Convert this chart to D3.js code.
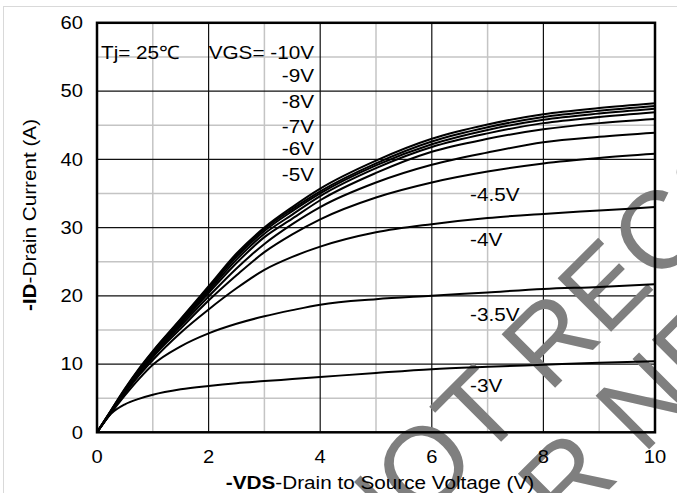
<!DOCTYPE html>
<html>
<head>
<meta charset="utf-8">
<script src="https://cdn.jsdelivr.net/npm/d3@7"></script>
<style>
  body { margin: 0; background: #fff; }
  svg { display: block; }
  text { font-family: "Liberation Sans", Arial, sans-serif; fill: #000; }
</style>
</head>
<body>
<svg id="chart" width="677" height="493"></svg>
<script>
// -VDS sample points (V)
const vds = [0, 0.25, 0.5, 0.75, 1, 1.5, 2, 2.5, 3, 3.5, 4, 5, 6, 7, 8, 9, 10];

// -ID (A) for each gate voltage
const idVgs10  = [0, 3.2, 6.4, 9.3, 11.9, 16.6, 21.4, 26.2, 30.0, 33.0, 35.7, 39.8, 43.0, 45.1, 46.6, 47.5, 48.2];
const idVgs9   = [0, 3.2, 6.3, 9.2, 11.8, 16.5, 21.2, 26.0, 29.8, 32.7, 35.3, 39.4, 42.6, 44.7, 46.2, 47.1, 47.8];
const idVgs8   = [0, 3.1, 6.2, 9.1, 11.7, 16.3, 21.0, 25.7, 29.5, 32.4, 35.0, 39.1, 42.2, 44.3, 45.8, 46.7, 47.4];
const idVgs7   = [0, 3.1, 6.1, 9.0, 11.6, 16.1, 20.7, 25.3, 29.1, 31.9, 34.6, 38.7, 41.8, 43.8, 45.3, 46.2, 46.9];
const idVgs6   = [0, 3.0, 6.0, 8.9, 11.4, 15.9, 20.4, 24.8, 28.6, 31.3, 34.0, 38.0, 41.1, 43.0, 44.4, 45.3, 45.9];
const idVgs5   = [0, 3.0, 5.9, 8.7, 11.2, 15.6, 19.9, 24.0, 27.6, 30.5, 33.0, 36.6, 39.2, 41.0, 42.5, 43.3, 43.9];
const idVgs4p5 = [0, 2.9, 5.8, 8.5, 11.0, 15.2, 19.3, 23.0, 26.4, 29.0, 31.2, 34.4, 36.6, 38.2, 39.4, 40.2, 40.8];
const idVgs4   = [0, 2.9, 5.7, 8.3, 10.6, 14.6, 18.0, 21.1, 23.8, 25.7, 27.2, 29.3, 30.5, 31.4, 32.0, 32.5, 33.0];
const idVgs3p5 = [0, 2.8, 5.4, 7.8, 9.9, 12.6, 14.5, 15.9, 17.0, 17.9, 18.7, 19.5, 20.0, 20.5, 21.0, 21.3, 21.7];
const idVgs3   = [0, 2.7, 4.1, 4.9, 5.5, 6.3, 6.8, 7.2, 7.5, 7.8, 8.1, 8.7, 9.25, 9.6, 9.9, 10.2, 10.4];

const seriesNames = ['-10V', '-9V', '-8V', '-7V', '-6V', '-5V', '-4.5V', '-4V', '-3.5V', '-3V'];
const seriesValues = [idVgs10, idVgs9, idVgs8, idVgs7, idVgs6, idVgs5, idVgs4p5, idVgs4, idVgs3p5, idVgs3];

const xTicks = [0, 2, 4, 6, 8, 10];
const xMinor = [1, 3, 5, 7, 9];
const yTicks = [0, 10, 20, 30, 40, 50, 60];
const yMinor = [5, 15, 25, 35, 45, 55];

const svg = d3.select('#chart');
const width = 677, height = 493;
const plot = { left: 97, right: 655, top: 22.8, bottom: 432.3 };
const stretch = 1.12;   // the source text is a bit wider than plain Arial

const xScale = d3.scaleLinear().domain([0, 10]).range([plot.left, plot.right]);
const yScale = d3.scaleLinear().domain([0, 60]).range([plot.bottom, plot.top]);

// Chart area frame
svg.append('rect')
  .attr('x', 3.5).attr('y', 6.5)
  .attr('width', width + 10).attr('height', height + 10)
  .attr('fill', '#fff')
  .attr('stroke', '#d9d9d9')
  .attr('stroke-width', 1);

// Grid
const grid = svg.append('g');
grid.selectAll('.x-minor').data(xMinor).enter().append('line')
  .attr('x1', d => xScale(d)).attr('x2', d => xScale(d))
  .attr('y1', plot.top).attr('y2', plot.bottom)
  .attr('stroke', '#c4c4c4').attr('stroke-width', 1.5);
grid.selectAll('.y-minor').data(yMinor).enter().append('line')
  .attr('x1', plot.left).attr('x2', plot.right)
  .attr('y1', d => yScale(d)).attr('y2', d => yScale(d))
  .attr('stroke', '#c4c4c4').attr('stroke-width', 1.5);
grid.selectAll('.x-major').data(xTicks.slice(1, -1)).enter().append('line')
  .attr('x1', d => xScale(d)).attr('x2', d => xScale(d))
  .attr('y1', plot.top).attr('y2', plot.bottom)
  .attr('stroke', '#111').attr('stroke-width', 1.2);
grid.selectAll('.y-major').data(yTicks.slice(1, -1)).enter().append('line')
  .attr('x1', plot.left).attr('x2', plot.right)
  .attr('y1', d => yScale(d)).attr('y2', d => yScale(d))
  .attr('stroke', '#111').attr('stroke-width', 1.2);

// Watermark (runs off the page, as in the source)
const wm = svg.append('g')
  .attr('transform', 'translate(505,438) rotate(-45)')
  .attr('font-size', 110);
wm.append('text').attr('x', -199).attr('y', 0).style('fill', '#7f7f7f').text('NOT RECOMMENDED');
wm.append('text').attr('x', -178).attr('y', 110).style('fill', '#7f7f7f').text('FOR NEW DESIGN');

// Curves
const line = d3.line()
  .x(d => xScale(d[0]))
  .y(d => yScale(d[1]))
  .curve(d3.curveMonotoneX);

svg.append('g').selectAll('path')
  .data(seriesValues.map(vals => vds.map((v, i) => [v, vals[i]])))
  .enter().append('path')
  .attr('fill', 'none')
  .attr('stroke', '#000')
  .attr('stroke-width', 2)
  .attr('d', line);

// Plot frame
svg.append('rect')
  .attr('x', plot.left).attr('y', plot.top)
  .attr('width', plot.right - plot.left).attr('height', plot.bottom - plot.top)
  .attr('fill', 'none')
  .attr('stroke', '#000')
  .attr('stroke-width', 2.5);

function addText(x, y, anchor, size, extra) {
  return svg.append('text')
    .attr('transform', `translate(${x},${y}) ${extra || ''} scale(${stretch},1)`)
    .attr('text-anchor', anchor)
    .attr('font-size', size);
}

// Tick labels
xTicks.forEach(t => addText(xScale(t), 463, 'middle', 18).text(t));
yTicks.forEach(t => addText(83, yScale(t) + 6.3, 'end', 18).text(t));

// Axis titles
const xt = addText(380, 489, 'middle', 18.5);
xt.append('tspan').attr('font-weight', 'bold').text('-VDS');
xt.append('tspan').text('-Drain to Source Voltage (V)');

const yt = addText(35.5, 215, 'middle', 18.5, 'rotate(-90)');
yt.append('tspan').attr('font-weight', 'bold').text('-ID');
yt.append('tspan').text('-Drain Current  (A)');

// Annotations
addText(101, 59, 'start', 18.5).text('Tj= 25\u2103');
const topLabelY = [59, 82, 108, 133, 155, 181];
seriesNames.slice(0, 6).forEach((s, i) => {
  addText(314, topLabelY[i], 'end', 18.5).text(i === 0 ? 'VGS= ' + s : s);
});
const lowLabelY = [201, 246, 321, 392];
seriesNames.slice(6).forEach((s, i) => {
  addText(470, lowLabelY[i], 'start', 18.5).text(s);
});
</script>
</body>
</html>
